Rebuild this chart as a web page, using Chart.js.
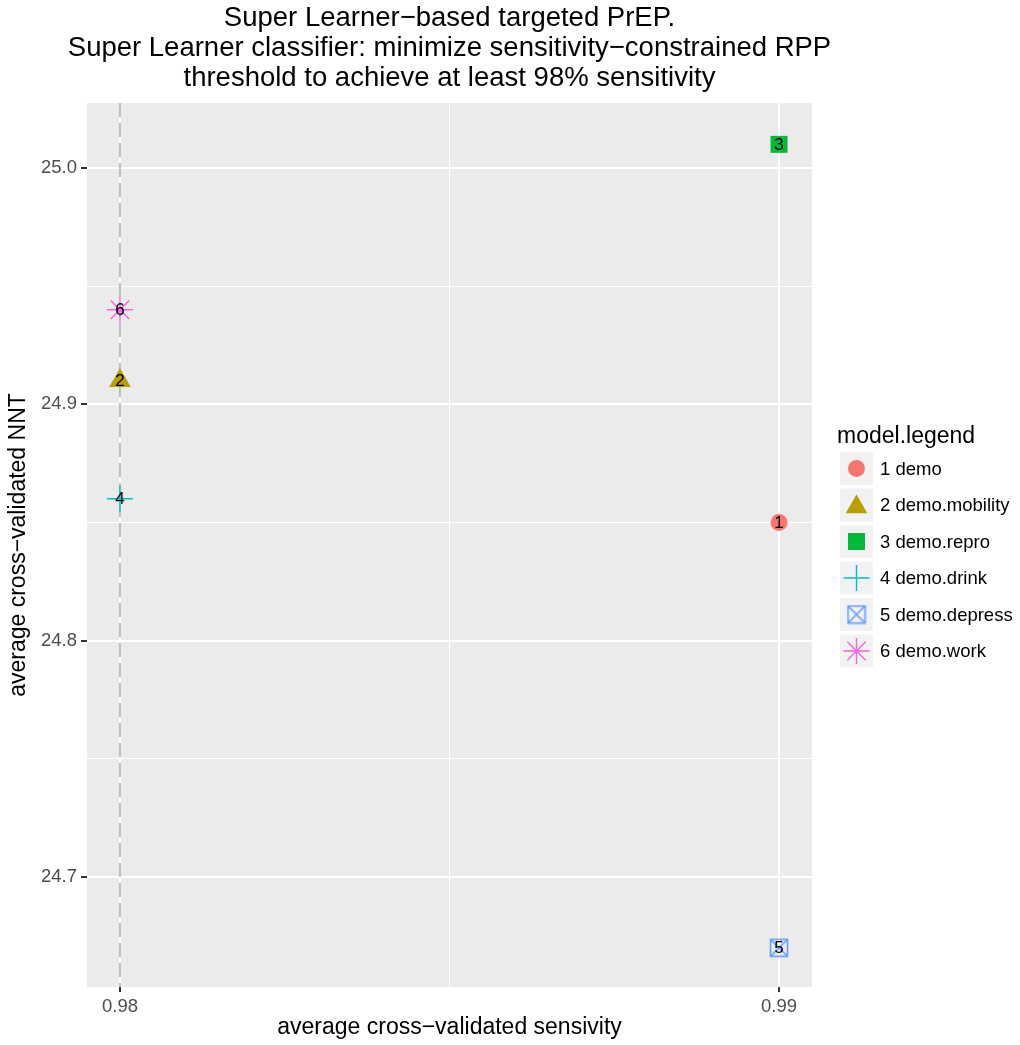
<!DOCTYPE html>
<html>
<head>
<meta charset="utf-8">
<style>
  html, body { margin: 0; padding: 0; background: #ffffff; }
  #wrap { width: 1020px; height: 1045px; position: relative; }
</style>
<script src="https://cdn.jsdelivr.net/npm/chart.js@4.4.1/dist/chart.umd.min.js"></script>
</head>
<body>
<div id="wrap"><canvas id="chart" width="1020" height="1045"></canvas></div>
<script>
// Models compared by cross-validated sensitivity and NNT
const models = ['1 demo', '2 demo.mobility', '3 demo.repro', '4 demo.drink', '5 demo.depress', '6 demo.work'];
const pointLabels = ['1', '2', '3', '4', '5', '6'];
const sensitivity = [0.99, 0.98, 0.99, 0.98, 0.99, 0.98];
const nnt = [24.85, 24.91, 25.01, 24.86, 24.67, 24.94];
const colors = ['#F8766D', '#B79F00', '#00BA38', '#00BFC4', '#619CFF', '#F564E3'];

// Axis ticks
const xTicks = [0.98, 0.99];
const xTickLabels = ['0.98', '0.99'];
const xMinorTicks = [0.985];
const yTicks = [24.7, 24.8, 24.9, 25.0];
const yTickLabels = ['24.7', '24.8', '24.9', '25.0'];
const yMinorTicks = [24.75, 24.85, 24.95];
const sensitivityTarget = 0.98;

const sansFont = '"Liberation Sans", Arial, Helvetica, sans-serif';

// Square-with-cross marker
function squareCross(color, size) {
  const c = document.createElement('canvas');
  c.width = size; c.height = size;
  const g = c.getContext('2d');
  g.strokeStyle = color;
  g.lineWidth = 1.6;
  const m = 1.5;
  g.strokeRect(m, m, size - 2 * m, size - 2 * m);
  g.beginPath();
  g.moveTo(m, m); g.lineTo(size - m, size - m);
  g.moveTo(size - m, m); g.lineTo(m, size - m);
  g.stroke();
  return c;
}

const markerStyles = [
  { pointStyle: 'circle', radius: 8.5, fill: true, borderWidth: 0 },
  { pointStyle: 'triangle', radius: 12.5, fill: true, borderWidth: 0 },
  { pointStyle: 'rect', radius: 12, fill: true, borderWidth: 0 },
  { pointStyle: 'cross', radius: 13, fill: false, borderWidth: 1.4 },
  { pointStyle: squareCross(colors[4], 20), radius: 10, fill: false, borderWidth: 1 },
  { pointStyle: 'star', radius: 13, fill: false, borderWidth: 1.4 }
];

const datasets = models.map((m, i) => ({
  label: m,
  data: [{ x: sensitivity[i], y: nnt[i] }],
  pointStyle: markerStyles[i].pointStyle,
  pointRadius: markerStyles[i].radius,
  pointBackgroundColor: markerStyles[i].fill ? colors[i] : 'rgba(0,0,0,0)',
  pointBorderColor: colors[i],
  pointBorderWidth: markerStyles[i].borderWidth,
  pointLabel: pointLabels[i]
}));

const PANEL = { left: 87, top: 103, right: 812, bottom: 987 };

// Panel background, reference line, point labels and legend
const ggDecor = {
  id: 'ggDecor',
  afterLayout(chart) {
    // let the title run wider than the panel while staying centred on it
    const t = chart.titleBlock;
    if (t) { t.left -= 80; t.right += 80; }
  },
  beforeDraw(chart) {
    const { ctx, chartArea: a } = chart;
    ctx.save();
    ctx.fillStyle = '#EBEBEB';
    ctx.fillRect(a.left, a.top, a.right - a.left, a.bottom - a.top);
    ctx.restore();
  },
  beforeDatasetsDraw(chart) {
    const { ctx, chartArea: a, scales } = chart;
    const px = scales.x.getPixelForValue(sensitivityTarget);
    ctx.save();
    ctx.strokeStyle = '#BEBEBE';
    ctx.lineWidth = 2;
    ctx.setLineDash([14, 6]);
    ctx.beginPath();
    ctx.moveTo(px, a.top);
    ctx.lineTo(px, a.bottom);
    ctx.stroke();
    ctx.restore();
  },
  afterDatasetsDraw(chart) {
    const { ctx } = chart;
    ctx.save();
    ctx.fillStyle = '#000000';
    ctx.font = '17px ' + sansFont;
    ctx.textAlign = 'center';
    ctx.textBaseline = 'middle';
    chart.data.datasets.forEach((ds, i) => {
      const el = chart.getDatasetMeta(i).data[0];
      ctx.fillText(ds.pointLabel, el.x, el.y + 1);
    });
    ctx.restore();
  },
  afterDraw(chart) {
    const { ctx } = chart;
    const x0 = 840, key = 33, step = 36.5, top0 = 452;
    ctx.save();
    ctx.fillStyle = '#000000';
    ctx.font = '23px ' + sansFont;
    ctx.textAlign = 'left';
    ctx.textBaseline = 'alphabetic';
    ctx.fillText('model.legend', 837, 443);
    chart.data.datasets.forEach((ds, i) => {
      const y = top0 + i * step;
      ctx.fillStyle = '#F2F2F2';
      ctx.fillRect(x0, y, key, key);
      const cx = x0 + key / 2, cy = y + key / 2;
      ctx.fillStyle = ds.pointBackgroundColor;
      ctx.strokeStyle = ds.pointBorderColor;
      ctx.lineWidth = ds.pointBorderWidth;
      Chart.helpers.drawPoint(ctx, {
        pointStyle: ds.pointStyle,
        radius: ds.pointRadius,
        borderWidth: ds.pointBorderWidth,
        rotation: 0
      }, cx, cy + (ds.pointStyle === 'triangle' ? 2 : 0));
      ctx.fillStyle = '#000000';
      ctx.font = '18.5px ' + sansFont;
      ctx.textBaseline = 'middle';
      ctx.fillText(ds.label, 880, cy + 1);
    });
    ctx.restore();
  }
};

function explicitTicks(major, minor) {
  return function (scale) {
    const all = major.map(v => ({ value: v, major: true }))
      .concat(minor.map(v => ({ value: v, major: false })));
    all.sort((a, b) => a.value - b.value);
    scale.ticks = all;
  };
}

function tickLabel(major, labels) {
  return function (value) {
    const idx = major.findIndex(v => Math.abs(v - value) < 1e-9);
    return idx >= 0 ? labels[idx] : '';
  };
}

const isMajor = (ctx) => ctx.tick && ctx.tick.major;

new Chart(document.getElementById('chart'), {
  type: 'scatter',
  data: { datasets },
  plugins: [ggDecor],
  options: {
    responsive: false,
    animation: false,
    events: [],
    layout: { padding: { left: 0, right: 1020 - PANEL.right, top: 0, bottom: 4 } },
    plugins: {
      legend: { display: false },
      tooltip: { enabled: false },
      title: {
        display: true,
        fullSize: false,
        text: [
          'Super Learner\u2212based targeted PrEP.',
          'Super Learner classifier: minimize sensitivity\u2212constrained RPP',
          'threshold to achieve at least 98% sensitivity'
        ],
        color: '#000000',
        font: { family: sansFont, size: 27.5, weight: 'normal', lineHeight: 1.1 },
        padding: { top: 3, bottom: 9.25 }
      }
    },
    scales: {
      x: {
        type: 'linear',
        min: 0.9795,
        max: 0.9905,
        afterBuildTicks: explicitTicks(xTicks, xMinorTicks),
        afterFit(scale) { scale.height = 1045 - 4 - PANEL.bottom; },
        border: { display: false },
        grid: {
          color: '#FFFFFF',
          lineWidth: (c) => isMajor(c) ? 2 : 1,
          drawTicks: true,
          tickLength: 5,
          tickColor: (c) => isMajor(c) ? '#333333' : 'rgba(0,0,0,0)',
          tickWidth: 2
        },
        ticks: {
          autoSkip: false,
          maxRotation: 0,
          color: '#4D4D4D',
          padding: 4,
          font: { family: sansFont, size: 18.5 },
          callback: tickLabel(xTicks, xTickLabels)
        },
        title: {
          display: true,
          text: 'average cross\u2212validated sensivity',
          color: '#000000',
          font: { family: sansFont, size: 23 },
          padding: { top: 2, bottom: 0 }
        }
      },
      y: {
        type: 'linear',
        min: 24.6534,
        max: 25.0275,
        afterBuildTicks: explicitTicks(yTicks, yMinorTicks),
        afterFit(scale) { scale.width = PANEL.left; },
        border: { display: false },
        grid: {
          color: '#FFFFFF',
          lineWidth: (c) => isMajor(c) ? 2 : 1,
          drawTicks: true,
          tickLength: 6,
          tickColor: (c) => isMajor(c) ? '#333333' : 'rgba(0,0,0,0)',
          tickWidth: 2
        },
        ticks: {
          autoSkip: false,
          color: '#4D4D4D',
          padding: 4,
          font: { family: sansFont, size: 18.5 },
          callback: tickLabel(yTicks, yTickLabels)
        },
        title: {
          display: true,
          text: 'average cross\u2212validated NNT',
          color: '#000000',
          font: { family: sansFont, size: 23 },
          padding: { top: 5, bottom: 2 }
        }
      }
    }
  }
});
</script>
</body>
</html>
